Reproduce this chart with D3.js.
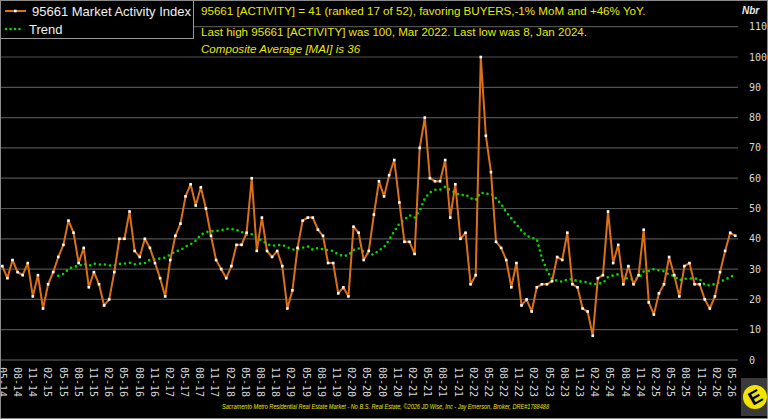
<!DOCTYPE html>
<html>
<head>
<meta charset="utf-8">
<script src="https://cdn.jsdelivr.net/npm/d3@7"></script>
<style>
  html, body { margin: 0; padding: 0; background: #000; }
  svg { display: block; }
</style>
</head>
<body>
<div id="chart"></div>
<script>
// monthly index, 05-14 .. 05-26
const activity = [
  31, 27, 33, 29, 28, 32, 21, 28, 17, 25, 29, 34,
  38, 46, 42, 32, 37, 24, 29, 25, 18, 20, 29, 40,
  40, 49, 36, 34, 40, 37, 32, 27, 21, 33, 41, 45,
  54, 58, 51, 57, 50, 41, 33, 30, 27, 31, 38, 38,
  42, 60, 36, 47, 36, 34, 36, 31, 17, 23, 37, 46,
  47, 47, 43, 41, 32, 32, 22, 24, 21, 44, 42, 33,
  36, 48, 59, 54, 61, 66, 52, 39, 39, 35, 70, 80,
  60, 59, 59, 66, 47, 58, 40, 42, 25, 28, 100, 74,
  62, 39, 37, 33, 24, 32, 18, 20, 16, 24, 25, 25,
  26, 34, 33, 42, 25, 24, 17, 16, 8, 27, 28, 49,
  32, 38, 25, 31, 25, 28, 43, 19, 15, 22, 25, 34,
  28, 21, 31, 32, 25, 25, 20, 17, 21, 29, 36, 42,
  41
];

// trend line, starts at the 12th month
const trend = [
  null, null, null, null, null, null, null, null, null, null, null,
  27.8, 28.4, 30.0, 30.8, 31.0, 31.8, 31.1, 31.8, 31.5, 31.6, 31.2, 31.2,
  31.7, 31.8, 32.1, 31.6, 31.8, 32.0, 33.1, 33.3, 33.5, 33.8, 34.8, 35.8,
  36.3, 37.4, 38.2, 39.4, 41.3, 42.2, 42.5, 42.6, 42.8, 43.3, 43.2, 42.9,
  42.3, 41.3, 41.5, 40.3, 39.4, 38.3, 37.7, 37.9, 38.0, 37.2, 36.5, 36.4,
  37.1, 37.5, 36.4, 37.0, 36.5, 36.2, 36.0, 34.8, 34.3, 34.6, 36.3, 36.8,
  35.7, 34.8, 34.8, 36.2, 37.3, 39.7, 42.5, 45.0, 46.3, 47.8, 47.0, 49.3,
  53.3, 55.3, 56.2, 56.2, 57.2, 56.0, 55.3, 54.3, 54.6, 53.4, 52.8, 55.3,
  54.8, 55.0, 53.3, 51.5, 48.8, 46.8, 44.7, 42.8, 41.0, 40.3, 39.9, 33.7,
  29.6, 26.6, 26.2, 25.8, 26.6, 26.7, 26.0, 25.9, 25.6, 24.9, 25.2, 25.4,
  27.4, 27.9, 28.3, 27.6, 26.7, 26.7, 27.0, 29.2, 29.4, 30.0, 29.6, 29.3,
  28.1, 27.8, 26.3, 26.8, 26.9, 26.9, 26.7, 24.8, 24.6, 25.1, 25.7, 26.6,
  27.3, 28.3
];

// one label every 3 months
const tickLabels = [
  "05-14", "08-14", "11-14",
  "02-15", "05-15", "08-15", "11-15",
  "02-16", "05-16", "08-16", "11-16",
  "02-17", "05-17", "08-17", "11-17",
  "02-18", "05-18", "08-18", "11-18",
  "02-19", "05-19", "08-19", "11-19",
  "02-20", "05-20", "08-20", "11-20",
  "02-21", "05-21", "08-21", "11-21",
  "02-22", "05-22", "08-22", "11-22",
  "02-23", "05-23", "08-23", "11-23",
  "02-24", "05-24", "08-24", "11-24",
  "02-25", "05-25", "08-25", "11-25",
  "02-26", "05-26"
];

const yTicks = [0, 10, 20, 30, 40, 50, 60, 70, 80, 90, 100, 110];

const headLines = [
  "95661 [ACTIVITY] = 41 (ranked 17 of 52), favoring BUYERS,-1% MoM and +46% YoY.",
  "Last high 95661 [ACTIVITY] was 100, Mar 2022. Last low was 8, Jan 2024.",
  "Composite Average [MAI] is 36"
];

const footer = "Sacramento Metro Residential Real Estate Market - No B.S. Real Estate, \u00a92026 JD Wise, Inc - Jay Emerson, Broker, DRE#1788488";

const width = 768;
const height = 419;
const orange = "#dc7019";
const green = "#00dc00";
const yellow = "#e8e800";
const mono = "'DejaVu Sans Mono', monospace";
const sans = "'Liberation Sans', Arial, sans-serif";

const svg = d3.select("#chart").append("svg")
  .attr("width", width)
  .attr("height", height)
  .style("background", "#000");

const x = d3.scaleLinear()
  .domain([0, activity.length - 1])
  .range([2.3, 735.3]);

const y = d3.scaleLinear()
  .domain([0, 110])
  .range([360, 26.7]);

// grid
svg.append("g")
  .selectAll("line")
  .data(yTicks)
  .enter().append("line")
  .attr("x1", 0)
  .attr("x2", 738)
  .attr("y1", d => y(d))
  .attr("y2", d => y(d))
  .attr("stroke", d => d === 0 ? "#6a6a6a" : "#505050")
  .attr("stroke-width", 1.2);

// y labels on the right
svg.append("g")
  .selectAll("text")
  .data(yTicks)
  .enter().append("text")
  .attr("x", 749)
  .attr("y", d => y(d))
  .attr("dy", "0.35em")
  .style("font-family", mono)
  .style("font-size", "10px")
  .style("fill", "#d8d8d8")
  .text(d => d);

svg.append("text")
  .attr("x", 742)
  .attr("y", 14)
  .style("font-family", sans)
  .style("font-size", "10px")
  .style("font-weight", "bold")
  .style("font-style", "italic")
  .style("fill", "#e8e8e8")
  .text("Nbr");

// x labels, rotated (first one is cut by the left edge, as in the source)
svg.append("g")
  .selectAll("text")
  .data(tickLabels)
  .enter().append("text")
  .attr("transform", (d, i) => `translate(${x(i * 3) - i * 0.08},367) rotate(90)`)
  .attr("dy", "0.35em")
  .style("font-family", mono)
  .style("font-size", "10px")
  .style("fill", "#d8d8d8")
  .text(d => d);

// trend (dotted)
const trendLine = d3.line()
  .defined(d => d != null)
  .x((d, i) => x(i))
  .y(d => y(d));

svg.append("path")
  .datum(trend)
  .attr("d", trendLine)
  .attr("fill", "none")
  .attr("stroke", green)
  .attr("stroke-width", 2.6)
  .attr("stroke-linecap", "round")
  .attr("stroke-dasharray", "0 5.1");

// activity line
const line = d3.line()
  .x((d, i) => x(i))
  .y(d => y(d));

svg.append("path")
  .datum(activity)
  .attr("d", line)
  .attr("fill", "none")
  .attr("stroke", orange)
  .attr("stroke-width", 2)
  .attr("stroke-linejoin", "round");

svg.append("g")
  .selectAll("rect")
  .data(activity)
  .enter().append("rect")
  .attr("x", (d, i) => x(i) - 1.3)
  .attr("y", d => y(d) - 1.3)
  .attr("width", 2.6)
  .attr("height", 2.6)
  .attr("fill", "#fff");

// legend
const legend = svg.append("g");

legend.append("rect")
  .attr("x", 0.5)
  .attr("y", 0.5)
  .attr("width", 193)
  .attr("height", 38)
  .attr("fill", "#000")
  .attr("stroke", "#9a9a9a");

legend.append("line")
  .attr("x1", 5).attr("x2", 26)
  .attr("y1", 11).attr("y2", 11)
  .attr("stroke", orange)
  .attr("stroke-width", 2);

legend.append("rect")
  .attr("x", 14).attr("y", 9.7)
  .attr("width", 2.6).attr("height", 2.6)
  .attr("fill", "#fff");

legend.append("text")
  .attr("x", 32)
  .attr("y", 11)
  .attr("dy", "0.35em")
  .style("font-family", sans)
  .style("font-size", "13px")
  .style("fill", "#f0f0f0")
  .text("95661 Market Activity Index");

legend.append("line")
  .attr("x1", 6).attr("x2", 24)
  .attr("y1", 29).attr("y2", 29)
  .attr("stroke", green)
  .attr("stroke-width", 2.6)
  .attr("stroke-linecap", "round")
  .attr("stroke-dasharray", "0 4.5");

legend.append("text")
  .attr("x", 29)
  .attr("y", 29)
  .attr("dy", "0.35em")
  .style("font-family", sans)
  .style("font-size", "13px")
  .style("fill", "#f0f0f0")
  .text("Trend");

// header text
svg.append("g")
  .selectAll("text")
  .data(headLines)
  .enter().append("text")
  .attr("x", 201)
  .attr("y", (d, i) => [11, 32, 48.5][i])
  .attr("dy", "0.35em")
  .style("font-family", sans)
  .style("font-size", "11.6px")
  .style("font-style", (d, i) => i === 2 ? "italic" : "normal")
  .style("fill", yellow)
  .text(d => d);

// footer
svg.append("text")
  .attr("x", 222)
  .attr("y", 409)
  .attr("textLength", 327)
  .attr("lengthAdjust", "spacingAndGlyphs")
  .style("font-family", sans)
  .style("font-size", "6.5px")
  .style("font-style", "italic")
  .style("fill", yellow)
  .text(footer);

// logo
const logo = svg.append("g");
logo.append("rect")
  .attr("x", 741).attr("y", 378)
  .attr("width", 27).attr("height", 38)
  .attr("fill", "#3a3a3a");
logo.append("circle")
  .attr("cx", 755).attr("cy", 397).attr("r", 12)
  .attr("fill", "#f0e400");
logo.append("text")
  .attr("transform", "translate(755,397) rotate(-30)")
  .attr("text-anchor", "middle")
  .attr("dy", "0.36em")
  .style("font-family", sans)
  .style("font-size", "19px")
  .style("font-weight", "bold")
  .style("fill", "#000")
  .text("E");

// outer frame
svg.append("rect")
  .attr("x", 0.5).attr("y", 0.5)
  .attr("width", width - 1).attr("height", height - 1)
  .attr("fill", "none")
  .attr("stroke", "#8a8a8a");
</script>
</body>
</html>
